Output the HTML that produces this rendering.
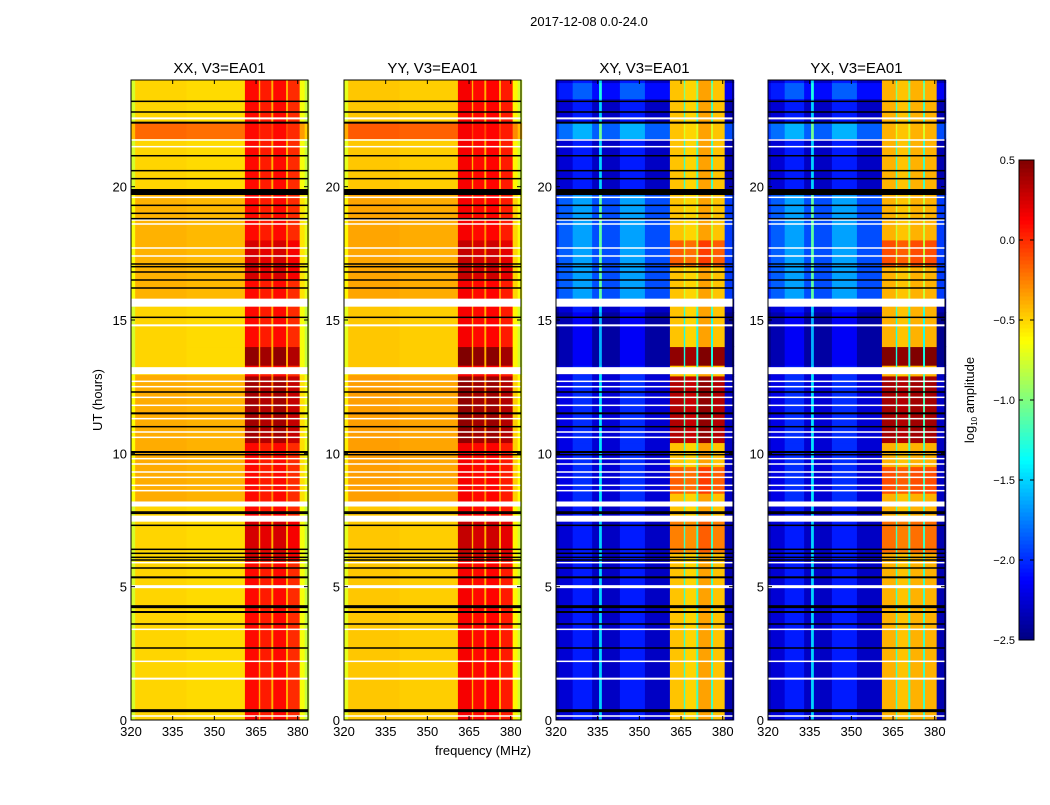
<!DOCTYPE html>
<html><head><meta charset="utf-8">
<style>
body{margin:0;background:#fff;}
svg text{font-family:"Liberation Sans",sans-serif;fill:#000;}
</style></head>
<body>
<svg id="chart" width="1050" height="800" xmlns="http://www.w3.org/2000/svg">
<rect width="1050" height="800" fill="#fff"/>
<text x="589" y="26" font-size="13" text-anchor="middle">2017-12-08 0.0-24.0</text>
<text x="483" y="755" font-size="13" text-anchor="middle">frequency (MHz)</text>
<text transform="translate(102,400) rotate(-90)" font-size="13" text-anchor="middle">UT (hours)</text>
<text transform="translate(974,400) rotate(-90)" font-size="13" text-anchor="middle">log<tspan font-size="8" dy="3">10</tspan><tspan dy="-3"> amplitude</tspan></text>
<g id="panels"></g>
<g id="cbar"></g>
</svg>
<script>
// ---- data ----
const panelTitles = ["XX, V3=EA01","YY, V3=EA01","XY, V3=EA01","YX, V3=EA01"];
const freqTicks = [320,335,350,365,380];
const hourTicks = [0,5,10,15,20];
const cbarTicks = [0.5,0.0,-0.5,-1.0,-1.5,-2.0,-2.5];
// column profiles: [f0, f1, value, isStripe]
const colXX = [[320,321.5,-0.75,0],[321.5,340,-0.5,0],[340,361,-0.52,0],[361,366,0.1,1],[366,366.5,-0.4,0],[366.5,370.5,0.05,1],[370.5,371.2,-0.4,0],[371.2,375.8,0.1,1],[375.8,376.5,-0.4,0],[376.5,380.7,0.0,1],[380.7,382.5,-0.65,0],[382.5,384,-0.8,0]];
const colYY = [[320,321.5,-0.7,0],[321.5,340,-0.46,0],[340,361,-0.48,0],[361,366,0.15,1],[366,366.5,-0.4,0],[366.5,370.5,0.1,1],[370.5,371.2,-0.4,0],[371.2,375.8,0.12,1],[375.8,376.5,-0.4,0],[376.5,380.7,0.05,1],[380.7,382.5,-0.6,0],[382.5,384,-0.75,0]];
const colXY = [[320,321,-2.4,0],[321,326,-2.25,0],[326,333,-2.05,0],[333,335.5,-2.3,0],[335.5,336.5,-1.5,0],[336.5,343,-2.3,0],[343,352,-2.05,0],[352,361,-2.3,0],[361,366,-0.45,1],[366,366.5,-1.2,0],[366.5,370.5,-0.5,1],[370.5,371.2,-1.2,0],[371.2,375.8,-0.35,1],[375.8,376.5,-1.2,0],[376.5,380.7,-0.45,1],[380.7,384,-2.35,0]];
const colYX = [[320,321,-2.4,0],[321,326,-2.25,0],[326,333,-2.05,0],[333,335.5,-2.3,0],[335.5,336.5,-1.5,0],[336.5,343,-2.3,0],[343,352,-2.05,0],[352,361,-2.3,0],[361,366,-0.4,1],[366,366.5,-1.2,0],[366.5,370.5,-0.45,1],[370.5,371.2,-1.2,0],[371.2,375.8,-0.4,1],[375.8,376.5,-1.2,0],[376.5,380.7,-0.4,1],[380.7,384,-2.35,0]];
// time-band offsets [h0, h1, offset]
const bgAuto = [[21.8,22.4,0.32],[15.8,19.7,0.1],[8.2,12.95,0.12]];
const stripeAuto = [[13.3,14.0,0.35],[10.4,12.9,0.3],[6.0,7.45,0.15],[16.5,18.0,0.15]];
const bgCross = [[23.3,23.9,0.2],[21.8,22.4,0.45],[15.8,19.7,0.4],[13.3,15.3,-0.1],[8.2,12.95,0.05]];
const stripeCross = [[13.3,14.0,0.9],[10.4,12.9,0.8],[8.5,9.5,0.3],[17.0,18.0,0.3],[6.3,7.5,0.2]];
// flagged rows [hour, thickness px]
const flagBlack = [[23.2,1.5],[22.8,1.5],[22.4,2],[21.16,1.5],[20.6,1.5],[20.3,1.5],[19.8,6],[19.3,1.5],[19.0,1.5],[18.8,1.5],[17.1,1.5],[17.0,1.5],[16.8,1.5],[16.5,1.5],[16.2,1.5],[15.1,1.5],[12.3,1.5],[11.5,2],[11.0,1.5],[10.05,2],[9.95,1.5],[7.8,1.5],[7.75,1.5],[7.3,1.5],[6.4,1.5],[6.25,1.5],[6.1,1.5],[6.0,1.5],[5.7,1.5],[5.35,2],[4.25,3],[4.05,2],[3.6,1.5],[2.7,1.5],[0.35,3]];
const flagWhite = [[22.56,2],[21.75,1.5],[21.5,1.5],[19.6,1.5],[18.75,1.5],[18.6,1.5],[17.7,1.5],[17.4,1.5],[15.65,8],[14.8,2],[13.1,7],[12.7,1.5],[12.5,1.5],[12.1,1.5],[11.8,1.5],[11.3,1.5],[10.8,1.5],[10.6,1.5],[9.8,1.5],[9.6,1.5],[9.3,1.5],[9.1,1.5],[8.8,1.5],[8.6,1.5],[8.1,5],[7.55,6],[5.9,1.5],[5.0,3],[3.4,1.5],[2.2,1.5],[1.55,2],[0.15,1.5]];

// ---- layout ----
const NS="http://www.w3.org/2000/svg";
const panelX=[131,344,556,768], PW=177, PT=80, PB=720;
const FMIN=320, FMAX=383.7, HMIN=0, HMAX=24, VMIN=-2.5, VMAX=0.5;
function jet(v){let t=(v-VMIN)/(VMAX-VMIN);t=Math.max(0,Math.min(1,t));
 const f=x=>Math.max(0,Math.min(1,x));
 const r=f(1.5-Math.abs(4*t-3)),g=f(1.5-Math.abs(4*t-2)),b=f(1.5-Math.abs(4*t-1));
 return `rgb(${Math.round(r*255)},${Math.round(g*255)},${Math.round(b*255)})`;}
function mk(tag,attrs,parent){const e=document.createElementNS(NS,tag);for(const k in attrs)e.setAttribute(k,attrs[k]);parent.appendChild(e);return e;}
function off(segs,h){let o=0;for(const s of segs){if(h>=s[0]&&h<s[1])o+=s[2];}return o;}
const panelsG=document.getElementById('panels');
const cols=[colXX,colYY,colXY,colYX];
const bgs=[bgAuto,bgAuto,bgCross,bgCross];
const sts=[stripeAuto,stripeAuto,stripeCross,stripeCross];
for(let p=0;p<4;p++){
 const x0=panelX[p];
 const xs=f=>x0+(f-FMIN)/(FMAX-FMIN)*PW;
 const ys=h=>PB-(h-HMIN)/(HMAX-HMIN)*(PB-PT);
 const g=mk('g',{},panelsG);
 
 
 let br=new Set([HMIN,HMAX]);
 for(const s of bgs[p].concat(sts[p])){br.add(s[0]);br.add(s[1]);}
 br=[...br].sort((a,b)=>a-b);
 const hg=mk('g',{},g);
 
 
 for(let i=0;i<br.length-1;i++){
  const h0=br[i],h1=br[i+1],hm=(h0+h1)/2;
  for(const c of cols[p]){
   const v=c[2]+(c[3]?off(sts[p],hm):off(bgs[p],hm));
   const r=mk('rect',{x:xs(c[0]),y:ys(h1),width:xs(c[1])-xs(c[0])+0.4,height:ys(h0)-ys(h1)+0.4,fill:jet(v)},hg);
   
   
  }
 }
 for(const fl of flagWhite){const r=mk('rect',{x:x0,y:ys(fl[0])-fl[1]/2,width:PW,height:fl[1],fill:'#fff'},g);
  
  }
 for(const fl of flagBlack){const r=mk('rect',{x:x0,y:ys(fl[0])-fl[1]/2,width:PW,height:fl[1],fill:'#000'},g);
  
  }
 mk('rect',{x:x0,y:PT,width:PW,height:PB-PT,fill:'none',stroke:'#000','stroke-width':1},g);
 for(const f of freqTicks){const x=xs(f);
  mk('line',{x1:x,x2:x,y1:PB,y2:PB-4,stroke:'#000'},g);mk('line',{x1:x,x2:x,y1:PT,y2:PT+4,stroke:'#000'},g);
  const t=mk('text',{x:x,y:PB+16,'font-size':13,'text-anchor':'middle'},g);t.textContent=f;
  
  }
 for(const h of hourTicks){const y=ys(h);
  mk('line',{x1:x0,x2:x0+4,y1:y,y2:y,stroke:'#000'},g);mk('line',{x1:x0+PW,x2:x0+PW-4,y1:y,y2:y,stroke:'#000'},g);
  const t=mk('text',{x:x0-4,y:y+5,'font-size':13,'text-anchor':'end'},g);t.textContent=h;
  
  }
 const tt=mk('text',{x:x0+PW/2,y:PT-7,'font-size':15,'text-anchor':'middle'},g);tt.textContent=panelTitles[p];
 
 
}
// colorbar
const cb=document.getElementById('cbar');


const CX=1019,CW=15,CT=160,CB=640;
const cy=v=>CB-(v-VMIN)/(VMAX-VMIN)*(CB-CT);
for(let i=0;i<120;i++){const v0=VMIN+i*(VMAX-VMIN)/120,v1=VMIN+(i+1)*(VMAX-VMIN)/120;
 mk('rect',{x:CX,y:cy(v1),width:CW,height:cy(v0)-cy(v1)+0.5,fill:jet((v0+v1)/2)},cb);}
mk('rect',{x:CX,y:CT,width:CW,height:CB-CT,fill:'none',stroke:'#000'},cb);
for(const v of cbarTicks){const y=cy(v);
 mk('line',{x1:CX,x2:CX+4,y1:y,y2:y,stroke:'#000'},cb);mk('line',{x1:CX+CW,x2:CX+CW-4,y1:y,y2:y,stroke:'#000'},cb);
 const t=mk('text',{x:CX-4,y:y+4,'font-size':11,'text-anchor':'end'},cb);t.textContent=(v<0?'\u2212':'')+Math.abs(v).toFixed(1);
 
 }
</script>
</body></html>
